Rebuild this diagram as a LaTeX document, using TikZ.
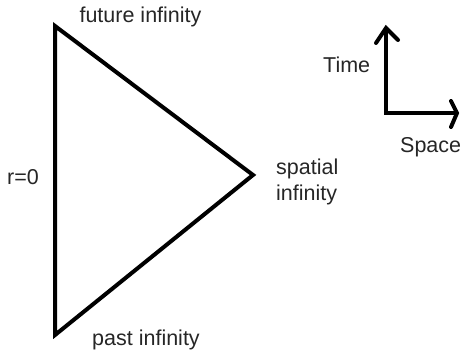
\documentclass[tikz,border=0pt]{standalone}
\usepackage{fontspec}
\setmainfont{Liberation Sans}
\begin{document}
\begin{tikzpicture}[x=1pt,y=-1pt,
  lbl/.style={inner sep=0pt,font=\fontsize{21.5}{25}\selectfont,text=black!85},
  edge/.style={line width=4pt,line join=miter,black},
  axis/.style={line width=4pt,black}]
\useasboundingbox (0,0) rectangle (463,352);
\coordinate (top) at (55,26);
\coordinate (bot) at (55,335);
\coordinate (right) at (253,175);
\draw[edge] (top) -- (right) -- (bot) -- cycle;
% axes
\coordinate (o) at (386,113);
\coordinate (tt) at (386,28);
\coordinate (sx) at (457,113);
\coordinate (tl) at (376,43);
\coordinate (tr) at (398,40);
\coordinate (su) at (451,101);
\coordinate (sd) at (451,127);
\draw[axis,line join=miter] (tt) -- (o) -- (sx);
\draw[axis,line cap=round] (tl) -- (tt) -- (tr);
\draw[axis,line cap=round] (su) -- (sx) -- (sd);
% labels
\node[lbl,anchor=base] (fut) at (140.5,23) {future infinity};
\node[lbl,anchor=base] (past) at (146,346) {past infinity};
\node[lbl,anchor=base west] (sp1) at (276,175) {spatial};
\node[lbl,anchor=base west] (sp2) at (276,201) {infinity};
\node[lbl,anchor=base west] (r0) at (7,185) {r=0};
\node[lbl,anchor=base west] (time) at (323,73) {Time};
\node[lbl,anchor=base west] (space) at (400,153) {Space};
\end{tikzpicture}
\end{document}
